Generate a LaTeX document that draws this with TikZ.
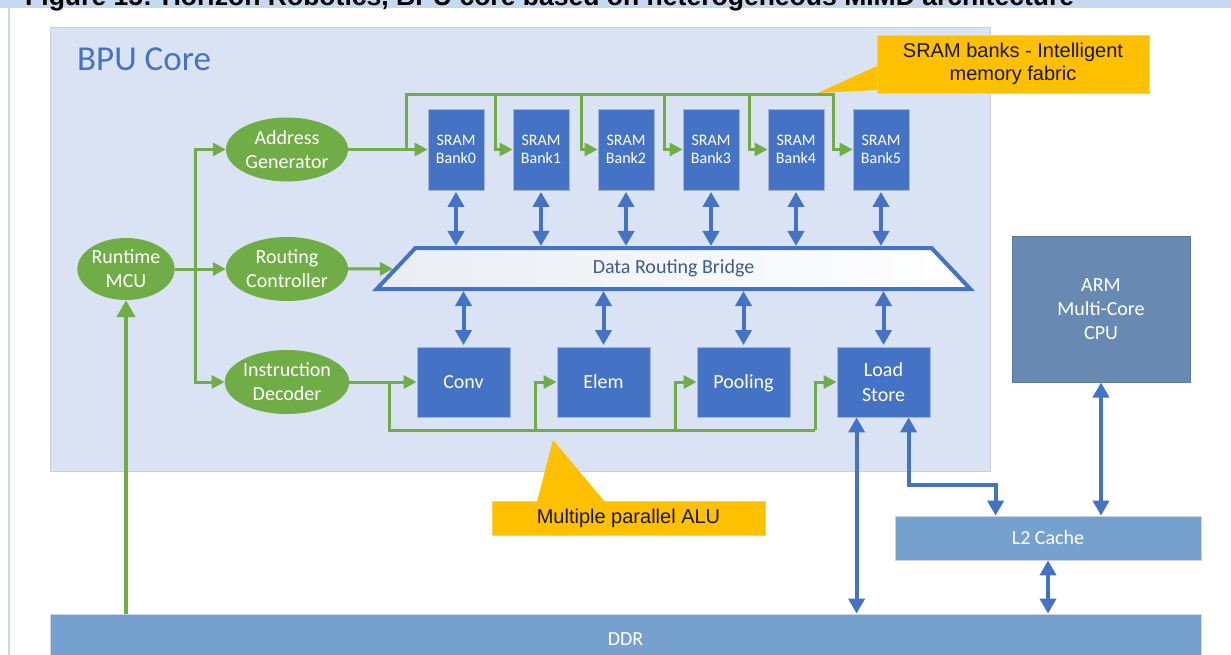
\documentclass[tikz,border=0pt]{standalone}
\usepackage{fontspec}
\usepackage{graphicx}
\setmainfont{Carlito}
\newfontfamily\arialfont{Liberation Sans}
\usetikzlibrary{shapes.geometric,arrows.meta}

\definecolor{panelfill}{HTML}{DAE3F3}
\definecolor{panelline}{HTML}{C9CED9}
\definecolor{bandblue}{HTML}{C6D9F1}
\definecolor{corebl}{HTML}{4472C4}
\definecolor{boxedge}{HTML}{A3B4DA}
\definecolor{grn}{HTML}{70AD47}
\definecolor{armfill}{HTML}{6889B2}
\definecolor{armedge}{HTML}{5C7BA1}
\definecolor{memfill}{HTML}{76A0CE}
\definecolor{memedge}{HTML}{C8D3E3}
\definecolor{notefill}{HTML}{FFC000}
\definecolor{bridgetext}{HTML}{405C8C}

\begin{document}
\begin{tikzpicture}[x=1pt,y=-1pt,
  ell/.style={ellipse, fill=grn, text=white, inner sep=0pt, align=center,
    minimum width=122pt, minimum height=64pt, font=\fontsize{20}{24}\selectfont},
  bankbox/.style={rectangle, fill=corebl, draw=boxedge, line width=0.8pt, text=white,
    minimum width=56pt, minimum height=81pt, inner sep=0pt, align=center,
    font=\fontsize{16}{18.5}\selectfont},
  alubox/.style={rectangle, fill=corebl, draw=boxedge, line width=0.8pt, text=white,
    minimum width=93pt, minimum height=70pt, inner sep=0pt, align=center,
    font=\fontsize{20}{25}\selectfont},
  membox/.style={rectangle, fill=memfill, draw=memedge, line width=0.8pt, text=white,
    inner sep=0pt, align=center, font=\fontsize{20}{24}\selectfont},
  notebox/.style={rectangle, fill=notefill, draw=notefill!70!white, line width=0.5pt,
    inner sep=0pt, align=center, text=black!90,
    font=\arialfont\fontsize{20}{23.5}\selectfont},
  gline/.style={draw=grn, line width=3pt},
  garrow/.style={gline, -{Triangle[length=13pt,width=13pt]}},
  barrow/.style={draw=corebl, line width=4pt,
    {Triangle[length=15pt,width=16pt]}-{Triangle[length=15pt,width=16pt]}},
]
\useasboundingbox (0,0) rectangle (1231,655);
\fill[white] (0,0) rectangle (1231,655);

% caption band and page frame
\fill[bandblue] (0,0) rectangle (1231,8);
\fill[bandblue] (8,8) rectangle (10,655);
\node[anchor=base west, inner sep=0pt] (title) at (25,5.5)
  {\resizebox{1049pt}{!}{\arialfont\bfseries\fontsize{24}{24}\selectfont
   Figure 15: Horizon Robotics, BPU core based on heterogeneous MIMD architecture}};

% BPU core panel
\node[rectangle, fill=panelfill, draw=panelline, line width=1pt, inner sep=0pt,
      minimum width=940pt, minimum height=443pt] (core) at (520,249.5) {};
\node[anchor=base west, inner sep=0pt, text=corebl, font=\fontsize{35}{40}\selectfont]
  (coretitle) at (77,71) {BPU Core};

% control ellipses
\node[ell, minimum width=95pt, minimum height=62pt] (mcu) at (126,269) {Runtime\\MCU};
\node[ell] (addr) at (287,149.5) {Address\\Generator};
\node[ell] (rout) at (287,269) {Routing\\Controller};
\node[ell] (inst) at (287,382) {Instruction\\Decoder};

% SRAM banks
\foreach \i/\x in {0/456,1/541,2/626,3/711,4/796,5/881}{
  \node[bankbox] (bank\i) at (\x,149.5) {SRAM\\Bank\i};
}

% data routing bridge
\node[trapezium, trapezium angle=55, trapezium stretches=true,
      minimum width=595pt, minimum height=41pt, inner sep=0pt,
      draw=corebl, line width=4pt, left color=black!8!panelfill!40!white, right color=white,
      text=bridgetext, font=\fontsize{20}{22}\selectfont]
  (bridge) at (673.5,268.5) {Data Routing Bridge};

% ALUs
\node[alubox] (conv) at (463.5,382) {Conv};
\node[alubox] (elem) at (603.5,382) {Elem};
\node[alubox, text depth=0pt] (pool) at (743.5,382) {Pooling};
\node[alubox] (ls) at (883.5,382) {Load\\Store};

% off-core blocks
\node[rectangle, fill=armfill, draw=armedge, line width=1pt, text=white, align=center,
      minimum width=178pt, minimum height=146pt, inner sep=0pt,
      font=\fontsize{20}{24}\selectfont] (arm) at (1101,309) {ARM\\Multi-Core\\CPU};
\node[membox, minimum width=306pt, minimum height=44pt] (l2) at (1048,538) {L2 Cache};
\node[membox, minimum width=1151pt, minimum height=50pt] (ddr) at (625.5,639) {DDR};

% callouts
\node[notebox, minimum width=272pt, minimum height=58pt] (sramnote) at (1013,64)
  {SRAM banks - Intelligent\\memory fabric};
\fill[notefill] (877,66) -- (818,93) -- (877,90) -- cycle;
\node[notebox, minimum width=273pt, minimum height=34pt] (alunote) at (628.5,518)
  {Multiple parallel ALU};
\fill[notefill] (537,502) -- (553,440) -- (605,502) -- cycle;

% control fan-out from the runtime MCU
\coordinate (trunk) at (195,269);
\draw[garrow] (mcu) -- (rout);
\draw[garrow] (trunk) |- (addr.west);
\draw[garrow] (trunk) |- (inst.west);
\draw[draw=grn, line width=4.5pt, -{Triangle[length=17pt,width=18pt]}]
  (mcu.south |- ddr.north) -- (mcu.south);
\draw[garrow] (rout) -- (bridge);

% address bus to the SRAM banks
\coordinate (abus) at (406,149.5);
\draw[garrow] (addr.east) -- (bank0.west);
\draw[gline, line cap=rect] (abus) -- (406,95) -- (833,95);
\foreach \i/\x in {1/495,2/581,3/664,4/749,5/833}{
  \draw[garrow] (\x,95) |- (bank\i.west);
}

% instruction bus to the ALUs
\coordinate (ibus) at (389,382);
\draw[garrow] (inst.east) -- (conv.west);
\draw[gline] (ibus) |- (815,430);
\draw[garrow] (535,430) |- (elem.west);
\draw[garrow] (675,430) |- (pool.west);
\draw[garrow] (815,430) |- (ls.west);

% bank <-> bridge
\foreach \i in {0,...,5}{
  \draw[barrow, shorten <=1.5pt] (bank\i.south) -- (bank\i.south |- bridge.north);
}
% bridge <-> ALUs
\foreach \n in {conv,elem,pool,ls}{
  \draw[barrow, shorten >=1.5pt] (\n.north |- bridge.south) -- (\n.north);
}

% memory links
\coordinate (lsA) at ([xshift=20pt]ls.south west);
\coordinate (lsB) at ([xshift=72pt]ls.south west);
\coordinate (l2A) at ([xshift=101pt]l2.north west);
\coordinate (bend) at (0,485);
\draw[barrow] (lsA) -- (lsA |- ddr.north);
\draw[barrow] (lsB) -- (lsB |- bend) -| (l2A);
\draw[barrow] (arm.south) -- (arm.south |- l2.north);
\draw[barrow] (l2.south) -- (l2.south |- ddr.north);
\end{tikzpicture}
\end{document}
